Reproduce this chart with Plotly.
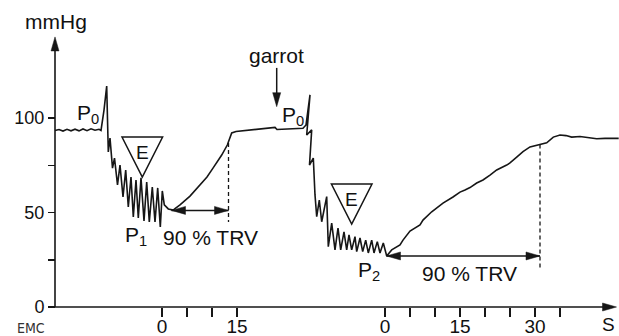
import plotly.graph_objects as go

# ---------------- data (time in s on one continuous timeline, pressure in mmHg)
T2 = 44.6  # time origin of the second test (after "garrot")

time_s = [
    -21.4, -20.6, -19.8, -19.0, -18.2, -17.4, -16.6, -15.8, -15.0, -14.2, -13.4, -12.6, -12.2,
    -11.6, -11.06,
    -10.74, -10.4, -9.9, -9.5, -8.9, -8.4, -7.8, -7.26, -6.74, -6.2, -5.74, -5.2, -4.74, -4.2,
    -3.6, -3.06, -2.54, -1.94, -1.4, -0.86, -0.34, 0.06, 0.46, 1.26, 2.26,
    2.6, 3.6, 5.6, 7.6, 9.0, 10.2, 11.94, 13.06, 13.4, 13.94, 14.8, 16.6, 18.6, 20.2, 22.6,
    23.0, 25.6, 28.2, 28.8, 29.6,
    28.94, 29.94, 29.5, 30.26, 30.6, 30.94, 31.46, 31.94, 32.94, 33.26, 33.94, 34.6, 35.2,
    35.74, 36.4, 36.94, 37.4, 37.94, 38.6, 38.94, 39.6, 40.14, 40.74, 41.26, 41.94, 42.4,
    43.06, 43.6, 44.26, 44.94,
    45.94, 47.6, 48.2, 49.6, 51.6, 52.2, 53.94, 55.0, 56.2, 58.2, 59.6, 60.6, 61.6, 62.94,
    64.2, 65.6, 66.94, 68.94, 69.6, 71.0, 72.2, 73.6, 74.94, 75.6, 76.94, 78.26, 79.6, 80.8,
    81.94, 83.6, 85.6, 86.94, 88.6, 91.34,
]
pressure = [
    93.4, 93.9, 93.1, 94.0, 93.2, 94.1, 93.2, 94.2, 93.3, 94.3, 93.5, 94.0, 93.4,
    104.2, 116.9,
    82.0, 89.4, 73.5, 78.8, 64.6, 75.1, 58.2, 72.5, 52.9, 68.8, 47.6, 67.2, 47.1, 68.3,
    45.5, 66.1, 45.0, 63.5, 45.0, 63.0, 42.3, 61.4, 54.0, 51.9, 51.3,
    52.1, 54.0, 58.7, 64.6, 68.8, 73.5, 80.4, 85.7, 87.8, 92.1, 92.9, 93.4, 93.9, 94.7, 95.0,
    93.9, 94.4, 94.6, 96.3, 112.2,
    91.0, 93.7, 75.1, 78.8, 59.3, 47.8, 56.6, 45.1, 58.4, 31.9, 44.4, 30.2, 41.8,
    30.2, 39.8, 30.2, 38.1, 30.2, 37.2, 29.3, 36.5, 29.3, 35.4, 28.6, 35.4, 28.6,
    34.6, 28.6, 33.9, 27.0,
    30.2, 32.8, 35.4, 40.2, 43.4, 46.0, 50.4, 52.4, 55.0, 58.2, 60.8, 61.9, 63.2, 65.6,
    67.2, 69.8, 72.5, 75.1, 76.2, 79.4, 82.2, 84.7, 85.7, 86.0, 86.9, 89.9, 91.0, 90.7,
    89.9, 90.2, 89.7, 89.0, 89.2, 89.2,
]

# 90 % TRV recovery intervals: start, end, level, top / bottom of dashed marker
trv_start = [1.9, 44.9]
trv_end = [13.3, 75.6]
trv_level = [51.1, 27.0]
trv_dash_top = [86.8, 86.0]
trv_dash_bottom = [45.0, 20.6]

x_major_vals = [0, 15, T2, T2 + 15, T2 + 30]
x_major_text = ["0", "15", "0", "15", "30"]
x_minor_vals = [5, 10, T2 + 5, T2 + 10, T2 + 20, T2 + 25, T2 + 35]
y_major_vals = [0, 50, 100]
y_major_text = ["0", "50", "100"]
y_minor_vals = [25, 75]

X_MIN, X_MAX = -32.4, 91.4
Y_MIN, Y_MAX = -15.34, 162.43
Y_AXIS_AT = -21.4
Y_ARROW_TOP = 142.9
X_ARROW_END = 90.9

FONT = "Liberation Sans, Arial, Helvetica, sans-serif"
INK = "#161616"

fig = go.Figure()
fig.add_trace(go.Scatter(x=time_s, y=pressure, mode="lines",
                         line=dict(color=INK, width=1.6), hoverinfo="skip"))

shapes = []


def head(x, y, direction, length=14, half=4):
    paths = {
        "up": f"M0,0 L{-half},{-length} L{half},{-length} Z",
        "down": f"M0,0 L{-half},{length} L{half},{length} Z",
        "right": f"M0,0 L{-length},{half} L{-length},{-half} Z",
        "left": f"M0,0 L{length},{half} L{length},{-half} Z",
    }
    return dict(type="path", xref="x", yref="y", xsizemode="pixel", ysizemode="pixel",
                xanchor=x, yanchor=y, path=paths[direction],
                fillcolor=INK, line=dict(color=INK, width=0.5))


def seg(x0, y0, x1, y1, dash=None, width=1.5):
    ln = dict(color=INK, width=width)
    if dash:
        ln["dash"] = dash
    return dict(type="line", xref="x", yref="y", x0=x0, y0=y0, x1=x1, y1=y1, line=ln)


# axes with arrows
shapes.append(seg(Y_AXIS_AT, 0, Y_AXIS_AT, Y_ARROW_TOP - 3, width=1.6))
shapes.append(head(Y_AXIS_AT, Y_ARROW_TOP, "up"))
shapes.append(seg(Y_AXIS_AT, 0, X_ARROW_END - 1, 0, width=1.6))
shapes.append(head(X_ARROW_END, 0, "right"))

# TRV double arrows and dashed markers
for s, e, lv, dt, db in zip(trv_start, trv_end, trv_level, trv_dash_top, trv_dash_bottom):
    shapes.append(seg(s, lv, e, lv))
    shapes.append(head(s, lv, "left"))
    shapes.append(head(e, lv, "right"))
    shapes.append(seg(e, dt, e, db, dash="4px,3px", width=1.3))

# garrot arrow
shapes.append(seg(22.94, 126.5, 22.94, 108))
shapes.append(head(22.94, 106.0, "down"))

# exercise triangles (E), anchored at the E label position
for ex, ey in [(-3.94, 82.0), (37.94, 57.1)]:
    shapes.append(dict(type="path", xref="x", yref="y", xsizemode="pixel", ysizemode="pixel",
                       xanchor=ex, yanchor=ey,
                       path="M-20.3,15 L20.3,15 L0,-25 Z",
                       line=dict(color=INK, width=1.5)))

annotations = []


def label(x, y, text, size=21, color="#111", family=FONT):
    annotations.append(dict(x=x, y=y, xref="x", yref="y", text=text, showarrow=False,
                            xanchor="center", yanchor="middle",
                            font=dict(size=size, color=color, family=family)))


label(-21.2, 150.8, "mmHg")
label(22.9, 133.1, "garrot")
label(-14.9, 102.1, "P<sub>0</sub>")
label(26.1, 101.1, "P<sub>0</sub>")
label(-5.2, 37.6, "P<sub>1</sub>")
label(41.3, 19.0, "P<sub>2</sub>")
label(9.6, 37.0, "90 % TRV")
label(61.4, 17.5, "90 % TRV")
label(-3.94, 82.0, "E", size=19)
label(37.94, 57.1, "E", size=19)
label(-26.3, -11.1, "EMC", size=14, color="#333",
      family="Liberation Sans Narrow, DejaVu Sans Condensed, Arial Narrow, sans-serif")
label(89.2, -9.0, "S", size=19)

tick_common = dict(ticks="outside", tickwidth=1.5, tickcolor=INK,
                   showgrid=False, zeroline=False, showline=False,
                   automargin=False, fixedrange=True)

fig.update_layout(
    width=619, height=336, autosize=False,
    margin=dict(l=0, r=0, t=0, b=0, pad=0),
    paper_bgcolor="white", plot_bgcolor="white",
    showlegend=False,
    shapes=shapes, annotations=annotations,
    font=dict(family=FONT, color="#111"),
    xaxis=dict(range=[X_MIN, X_MAX], anchor="free", position=29 / 336,
               tickmode="array", tickvals=x_major_vals, ticktext=x_major_text,
               ticklen=9, ticklabelstandoff=-7,
               minor=dict(tickmode="array", tickvals=x_minor_vals, ticks="outside",
                          ticklen=9, tickwidth=1.5, tickcolor=INK, showgrid=False),
               tickfont=dict(size=19, family=FONT, color="#111"), **tick_common),
    yaxis=dict(range=[Y_MIN, Y_MAX], anchor="free", position=55 / 619,
               tickmode="array", tickvals=y_major_vals, ticktext=y_major_text,
               ticklen=7,
               minor=dict(tickmode="array", tickvals=y_minor_vals, ticks="outside",
                          ticklen=7, tickwidth=1.5, tickcolor=INK, showgrid=False),
               tickfont=dict(size=18, family=FONT, color="#111"), **tick_common),
)

# remove the browser's default 8 px body margin so the 619x336 figure fills the window
fig.write_html("out.html",
               config={"displayModeBar": False, "staticPlot": True},
               post_script="document.body.style.margin='0';"
                           "document.body.style.overflow='hidden';")
